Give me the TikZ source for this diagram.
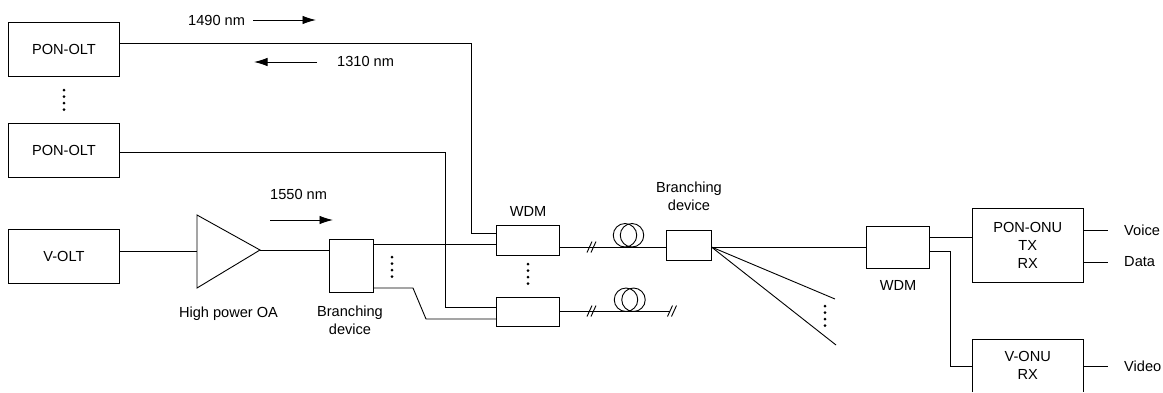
\documentclass[tikz,border=0pt]{standalone}
\usepackage{fontspec}
\setmainfont{Liberation Sans}
\usetikzlibrary{arrows.meta}
\tikzset{
  box/.style={draw,line width=0.9pt,fill=white,inner sep=0pt,align=center,font=\fontsize{14.6}{17.8}\selectfont},
  olt/.style={box,minimum width=111pt,minimum height=54pt},
  wdm/.style={box,minimum width=63.5pt,minimum height=29.5pt},
  lbl/.style={inner sep=0pt,align=center,font=\fontsize{14.6}{17.8}\selectfont},
  wire/.style={line width=0.9pt},
  flow/.style={line width=0.9pt,-{Latex[length=13.5pt,width=8.5pt]}},
  dot/.style={circle,fill=black,inner sep=0pt,minimum size=3pt},
  coil/.style={draw,line width=0.9pt,circle,inner sep=0pt,minimum size=23.5pt},
}
\newcommand{\fourdots}[3]{%
  \node[dot] (#1a) at (#2,#3) {};
  \node[dot] (#1b) at (#2,#3+6.5) {};
  \node[dot] (#1c) at (#2,#3+13) {};
  \node[dot] (#1d) at (#2,#3+19.5) {};}
\newcommand{\slashmark}[2]{%
  \draw[wire] (#1-5,#2+5.5) -- (#1,#2-5.5);
  \draw[wire] (#1-1,#2+5.5) -- (#1+4,#2-5.5);}
\begin{document}
\begin{tikzpicture}[x=1pt,y=-1pt]
\useasboundingbox (0,0) rectangle (1163,392);
% boxes
\node[olt] (olt1) at (64,49.75) {PON-OLT};
\node[olt] (olt2) at (64,150) {PON-OLT};
\node[olt] (volt) at (64,256.25) {V-OLT};
\node[box,minimum width=44pt,minimum height=53pt] (br1) at (351,265.5) {};
\node[wdm] (w1) at (528,240.25) {};
\node[wdm] (w2) at (528,311.75) {};
\node[box,minimum width=44.5pt,minimum height=30pt] (br2) at (688.75,245) {};
\node[box,minimum width=63pt,minimum height=42pt] (w3) at (898,247.5) {};
\node[box,minimum width=110.5pt,minimum height=74.5pt] (ponu) at (1027.75,245.25) {PON-ONU\\TX\\RX};
\node[lbl,minimum width=110.5pt,minimum height=53pt] (vonu) at (1027.75,365.5) {V-ONU\\RX};
\draw[wire] (vonu.south west) -- (vonu.west |- 0,339) -- (vonu.east |- 0,339) -- (vonu.south east);
% amplifier
\coordinate (ampa) at (197,215);
\coordinate (ampb) at (197,288);
\coordinate (ampc) at (260,250);
\draw[wire,line join=miter] (ampa) -- (ampc) -- (ampb) -- cycle;
% port coordinates
\coordinate (p1) at (olt1.east |- 0,43);
\coordinate (q1) at (w1.west |- 0,233.5);
\coordinate (p2) at (olt2.east |- 0,152);
\coordinate (q2) at (w2.west |- 0,307);
\draw[wire] (p1) -- (471,43) |- (q1);
\draw[wire] (p2) -- (445,152) |- (q2);
\draw[wire] (volt.east |- 0,251) -- (197,251);
\draw[wire] (ampc) -- (br1.west |- ampc);
\draw[wire] (br1.east |- 0,244) -- (w1.west |- 0,244);
\draw[wire] (br1.east |- 0,288) -- (413,288) -- (426,319) -- (w2.west |- 0,319);
% fibre runs
\coordinate (e2) at (670,311);
\draw[wire] (w1.east |- 0,247) -- (br2.west |- 0,247);
\draw[wire] (w2.east |- 0,311) -- (e2);
\slashmark{592}{247}
\slashmark{592}{311}
\slashmark{672.5}{311}
\node[coil] (c1a) at (625,235.25) {};
\node[coil] (c1b) at (632,235.25) {};
\node[coil] (c2a) at (626,299.75) {};
\node[coil] (c2b) at (633.5,299.75) {};
% after second branching device
\coordinate (fan) at (br2.east |- 0,247);
\coordinate (f1) at (835,299);
\coordinate (f2) at (836,345);
\draw[wire] (fan) -- (w3.west |- fan);
\draw[wire] (fan) -- (f1);
\draw[wire] (fan) -- (f2);
\draw[wire] (w3.east |- 0,237) -- (ponu.west |- 0,237);
\draw[wire] (w3.east |- 0,251) -- (950,251) |- (vonu.west |- 0,366);
% outputs
\node[lbl,anchor=west] (voice) at (1124,230) {Voice};
\node[lbl,anchor=west] (data) at (1124,262) {Data};
\node[lbl,anchor=west] (video) at (1124,366) {Video};
\draw[wire] (ponu.east |- 0,230) -- (1108,230);
\draw[wire] (ponu.east |- 0,262) -- (1108,262);
\draw[wire] (vonu.east |- 0,366) -- (1108,366);
% wavelength labels
\node[lbl,anchor=west] (l1490) at (188,20) {1490 nm};
\node[lbl,anchor=west] (l1310) at (337,61.5) {1310 nm};
\node[lbl,anchor=west] (l1550) at (270,194) {1550 nm};
\coordinate (a1s) at (253,20); \coordinate (a1e) at (316,20);
\coordinate (a2s) at (317,62); \coordinate (a2e) at (254,62);
\coordinate (a3s) at (270,220); \coordinate (a3e) at (333,220);
\draw[flow] (a1s) -- (a1e);
\draw[flow] (a2s) -- (a2e);
\draw[flow] (a3s) -- (a3e);
% other labels
\node[lbl] (lw1) at (528,211.5) {WDM};
\node[lbl] (lw3) at (898,285) {WDM};
\node[lbl] (lb2) at (689,196.5) {Branching\\device};
\node[lbl] (lb1) at (350,320.5) {Branching\\device};
\node[lbl] (loa) at (228.5,314) {High power OA};
% dots
\fourdots{d1}{64}{90}
\fourdots{d2}{392}{257}
\fourdots{d3}{528}{264}
\fourdots{d4}{825}{306}
\end{tikzpicture}
\end{document}
